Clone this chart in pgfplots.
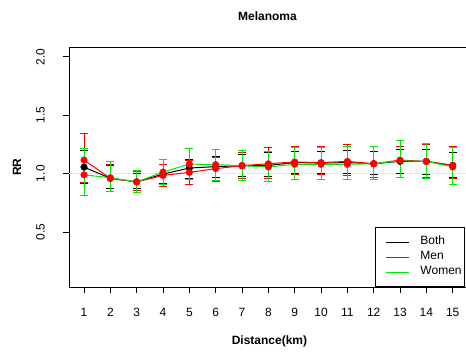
\documentclass[border=0pt]{standalone}
\usepackage{fontspec}
\setmainfont{Liberation Sans}
\usepackage{pgfplots}
\usepackage{pgfplotstable}
\pgfplotsset{compat=1.18}

\pgfplotstableread{
x y lo hi
1 1.056 0.920 1.200
2 0.960 0.870 1.070
3 0.930 0.870 1.000
4 0.996 0.920 1.080
5 1.048 0.960 1.125
6 1.060 0.970 1.148
7 1.068 0.980 1.160
8 1.070 0.980 1.180
9 1.095 1.005 1.190
10 1.090 1.005 1.190
11 1.095 1.000 1.197
12 1.085 0.990 1.190
13 1.105 1.005 1.210
14 1.105 0.997 1.210
15 1.070 0.968 1.180
}\both
\pgfplotstableread{
x y lo hi
1 1.116 0.923 1.342
2 0.960 0.850 1.080
3 0.930 0.855 1.020
4 0.985 0.894 1.080
5 1.011 0.908 1.110
6 1.043 0.930 1.140
7 1.068 0.960 1.180
8 1.085 0.960 1.225
9 1.100 0.990 1.236
10 1.095 0.990 1.236
11 1.105 0.985 1.248
12 1.085 0.970 1.230
13 1.116 0.970 1.236
14 1.105 0.970 1.250
15 1.071 0.957 1.236
}\men
\pgfplotstableread{
x y lo hi
1 0.990 0.810 1.214
2 0.965 0.850 1.100
3 0.930 0.840 1.030
4 1.014 0.910 1.125
5 1.082 0.950 1.216
6 1.077 0.940 1.210
7 1.068 0.943 1.197
8 1.057 0.934 1.188
9 1.080 0.954 1.222
10 1.080 0.950 1.220
11 1.080 0.950 1.233
12 1.085 0.950 1.235
13 1.110 0.965 1.280
14 1.105 0.960 1.260
15 1.057 0.910 1.220
}\women

\definecolor{rred}{RGB}{255,0,0}
\definecolor{rgreen}{RGB}{0,235,0}

\begin{document}
\begin{tikzpicture}[font=\fontsize{12bp}{14bp}\selectfont]
\begin{axis}[
  width=397bp, height=240bp, scale only axis,
  xmin=0.43, xmax=15.505, ymin=0.031, ymax=2.083,
  axis lines*=left,
  axis line style={line width=0.8bp},
  xtick={1,...,15}, ytick={0.5,1,1.5,2},
  /pgf/number format/assume math mode=true,
  yticklabel style={/pgf/number format/fixed, /pgf/number format/fixed zerofill, /pgf/number format/precision=1,
    xshift=-18bp, rotate=90, anchor=south, inner sep=0pt},
  xticklabel style={anchor=north, inner sep=0pt, yshift=-15bp},
  tick align=outside, major tick length=6bp,
  tick style={black, line width=0.8bp},
  title={\bfseries Melanoma},
  title style={at={(axis description cs:0.5,1)}, anchor=center, yshift=25bp, inner sep=0pt},
  xlabel={\bfseries Distance(km)},
  xlabel style={at={(axis description cs:0.505,0)}, anchor=center, yshift=-54bp, inner sep=0pt},
  ylabel={\bfseries RR},
  ylabel style={at={(axis description cs:-0.131,0.5)}, anchor=center, inner sep=0pt},
  legend cell align=left,
  legend style={at={(rel axis cs:1,0)}, anchor=south east, xshift=-1bp,
    draw=black, line width=0.8bp, inner xsep=3bp, inner ysep=7bp, column sep=0pt,
    nodes={inner sep=0pt, text height=10bp, text depth=5bp, font=\fontsize{12bp}{14bp}\selectfont}},
  legend image code/.code={\path[draw=none] (0bp,0bp) -- (42bp,0bp); \draw[#1, line width=0.9bp] (8bp,0bp) -- (31bp,0bp);},
  error bars/y dir=both, error bars/y explicit,
]
\addplot[gray!18, line width=1.6bp, forget plot] coordinates {(0.43,1) (15.505,1)};
\coordinate (O) at (rel axis cs:0,0);
\draw[line width=0.8bp] (rel axis cs:0,1) -- (rel axis cs:1,1);

\addplot[black, line width=1bp, no marks, forget plot,
  error bars/error bar style={black, line width=1bp},
  error bars/error mark options={rotate=90, black, mark size=4bp, line width=1bp}]
  table[x=x, y=y, y error plus expr=\thisrow{hi}-\thisrow{y}, y error minus expr=\thisrow{y}-\thisrow{lo}] {\both};
\addplot[rred, line width=1bp, no marks, forget plot,
  error bars/error bar style={rred, line width=1bp},
  error bars/error mark options={rotate=90, rred, mark size=4bp, line width=1bp}]
  table[x=x, y=y, y error plus expr=\thisrow{hi}-\thisrow{y}, y error minus expr=\thisrow{y}-\thisrow{lo}] {\men};
\addplot[rgreen, line width=1bp, no marks, forget plot,
  error bars/error bar style={rgreen, line width=1bp},
  error bars/error mark options={rotate=90, rgreen, mark size=4bp, line width=1bp}]
  table[x=x, y=y, y error plus expr=\thisrow{hi}-\thisrow{y}, y error minus expr=\thisrow{y}-\thisrow{lo}] {\women};

\addplot[only marks, mark=*, mark size=3.3bp, black, forget plot] table[x=x, y=y] {\both};
\addplot[only marks, mark=*, mark size=3.3bp, rred, forget plot] table[x=x, y=y] {\men};
\addplot[only marks, mark=*, mark size=3.3bp, rred, forget plot] table[x=x, y=y] {\women};

\addlegendimage{black}
\addlegendentry{Both}
\addlegendimage{rred}
\addlegendentry{Men}
\addlegendimage{rgreen}
\addlegendentry{Women}
\end{axis}
\pgfresetboundingbox
\path (O) ++(-69bp,-68bp) rectangle ++(466bp,355bp);
\end{tikzpicture}
\end{document}
